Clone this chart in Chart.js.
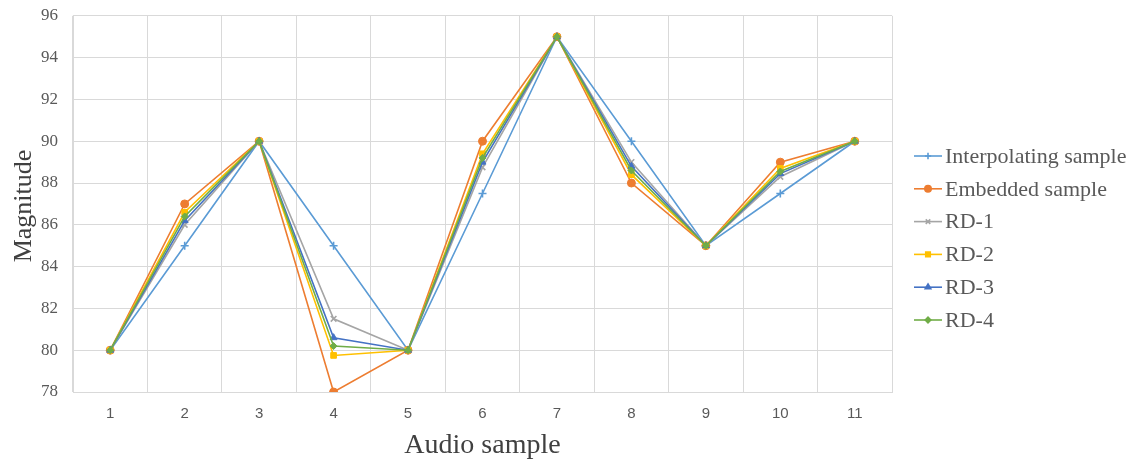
<!DOCTYPE html>
<html>
<head>
<meta charset="utf-8">
<script src="https://cdn.jsdelivr.net/npm/chart.js@4/dist/chart.umd.min.js"></script>
<style>
  html, body { margin: 0; padding: 0; background: #fff; }
  #wrap { width: 1134px; height: 461px; position: relative; }
</style>
</head>
<body>
<div id="wrap"><canvas id="chart1"></canvas></div>
<script>
const samples = ['1', '2', '3', '4', '5', '6', '7', '8', '9', '10', '11'];
const interpolating = [80, 85, 90, 85, 80, 87.5, 95, 90, 85, 87.5, 90];
const embedded = [80, 87, 90, 78, 80, 90, 95, 88, 85, 89, 90];
const rd1 = [80, 86, 90, 81.5, 80, 88.75, 95, 89, 85, 88.3, 90];
const rd2 = [80, 86.6, 90, 79.75, 80, 89.4, 95, 88.4, 85, 88.7, 90];
const rd3 = [80, 86.2, 90, 80.6, 80, 89, 95, 88.8, 85, 88.45, 90];
const rd4 = [80, 86.4, 90, 80.2, 80, 89.2, 95, 88.6, 85, 88.55, 90];
const yTicks = [78, 80, 82, 84, 86, 88, 90, 92, 94, 96];

const serif = '"Liberation Serif", "Times New Roman", serif';

function series(label, data, color, style, radius, i) {
  return {
    label: label, data: data, borderColor: color, backgroundColor: color,
    borderWidth: 1.6, pointStyle: style, pointRadius: radius, pointHoverRadius: radius,
    pointBorderWidth: style === 'cross' || style === 'crossRot' ? 1.6 : 1,
    tension: 0, order: 5 - i
  };
}

// axis titles and a legend with line + marker, drawn by hand
const extras = {
  id: 'extras',
  afterDraw(chart) {
    const c = chart.ctx;
    c.save();
    c.fillStyle = '#404040';
    c.font = '28px ' + serif;
    c.textAlign = 'center';
    c.textBaseline = 'alphabetic';
    const a = chart.chartArea;
    c.fillText('Audio sample', (a.left + a.right) / 2, 453);
    c.save();
    c.translate(31, 206);
    c.rotate(-Math.PI / 2);
    c.font = '26px ' + serif;
    c.fillText('Magnitude', 0, 0);
    c.restore();

    c.font = '22px ' + serif;
    c.textAlign = 'left';
    c.textBaseline = 'middle';
    chart.data.datasets.forEach((ds, i) => {
      const y = 156 + i * 32.8;
      c.strokeStyle = ds.borderColor;
      c.lineWidth = 1.6;
      c.beginPath(); c.moveTo(914, y); c.lineTo(942, y); c.stroke();
      c.fillStyle = ds.borderColor;
      Chart.helpers.drawPoint(c, {
        pointStyle: ds.pointStyle, radius: ds.pointRadius * 0.8, borderWidth: ds.pointBorderWidth, rotation: 0
      }, 928, y);
      c.fillStyle = '#595959';
      c.fillText(ds.label, 945, y + 1);
    });
    c.restore();
  }
};

new Chart(document.getElementById('chart1').getContext('2d'), {
  type: 'line',
  data: {
    labels: samples,
    datasets: [
      series('Interpolating sample', interpolating, '#5B9BD5', 'cross', 4, 0),
      series('Embedded sample', embedded, '#ED7D31', 'circle', 4, 1),
      series('RD-1', rd1, '#A5A5A5', 'crossRot', 4, 2),
      series('RD-2', rd2, '#FFC000', 'rect', 4, 3),
      series('RD-3', rd3, '#4472C4', 'triangle', 4, 4),
      series('RD-4', rd4, '#70AD47', 'rectRot', 3.5, 5)
    ]
  },
  options: {
    responsive: true,
    maintainAspectRatio: false,
    animation: false,
    layout: { padding: { left: 0, right: 242, top: 15, bottom: 0 } },
    plugins: { legend: { display: false }, tooltip: { enabled: false } },
    scales: {
      x: {
        offset: true,
        grid: { offset: true, color: '#D9D9D9', lineWidth: 1, drawTicks: false },
        border: { color: '#D9D9D9' },
        ticks: { color: '#595959', font: { family: '"Liberation Sans", Arial, sans-serif', size: 15 }, padding: 13 },
        afterFit(s) { s.height = 69; }
      },
      y: {
        min: 78, max: 96,
        afterBuildTicks(s) { s.ticks = yTicks.map(v => ({ value: v })); },
        grid: { color: '#D9D9D9', lineWidth: 1, drawTicks: false },
        border: { color: '#D9D9D9' },
        ticks: { color: '#595959', font: { family: serif, size: 17, lineHeight: 0.1 }, padding: 15 },
        afterFit(s) { s.width = 73; }
      }
    }
  },
  plugins: [extras]
});
</script>
</body>
</html>
